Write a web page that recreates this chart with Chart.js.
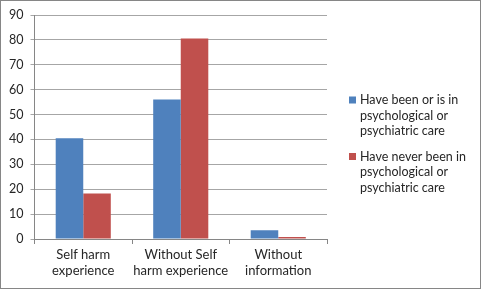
<!DOCTYPE html>
<html>
<head>
<meta charset="utf-8">
<script src="https://cdn.jsdelivr.net/npm/chart.js@4/dist/chart.umd.min.js"></script>
<style>
  html, body { margin: 0; padding: 0; background: #fff; }
  #wrap { width: 481px; height: 289px; position: relative; }
</style>
</head>
<body>
<div id="wrap"><canvas id="chart" width="481" height="289"></canvas></div>
<script>
const categories = [["Self harm", "experience"], ["Without Self", "harm experience"], ["Without", "information"]];
const inCare = [40.5, 56, 3.5];
const neverInCare = [18.3, 80.6, 0.8];
const seriesNames = [
  ["Have been or is in", "psychological or", "psychiatric care"],
  ["Have never been in", "psychological or", "psychiatric care"],
];
const seriesColors = ["#4F81BD", "#C0504D"];
const yTicks = [0, 10, 20, 30, 40, 50, 60, 70, 80, 90];

const FONT = "Lato, 'Liberation Sans', sans-serif";
const TEXT = "#262626";

// Legend on the right, wrapped text like the original.
const sideLegend = {
  id: "sideLegend",
  afterDraw(chart) {
    const ctx = chart.ctx;
    ctx.save();
    ctx.font = "12.5px " + FONT;
    ctx.textBaseline = "middle";
    let y = 100;
    chart.data.datasets.forEach((ds, i) => {
      ctx.fillStyle = ds.backgroundColor;
      ctx.fillRect(349, y - 3.5, 7, 7);
      ctx.fillStyle = TEXT;
      seriesNames[i].forEach((line, j) => {
        ctx.fillText(line, 360, y + j * 15.7);
      });
      y += 56.5;
    });
    ctx.restore();
  },
};

const frame = {
  id: "frame",
  afterDraw(chart) {
    const ctx = chart.ctx;
    ctx.save();
    ctx.strokeStyle = "#868686";
    ctx.lineWidth = 1;
    ctx.strokeRect(0.5, 0.5, chart.width - 1, chart.height - 1);
    ctx.restore();
  },
};

new Chart(document.getElementById("chart"), {
  type: "bar",
  data: {
    labels: categories,
    datasets: [
      { label: seriesNames[0].join(" "), data: inCare, backgroundColor: seriesColors[0] },
      { label: seriesNames[1].join(" "), data: neverInCare, backgroundColor: seriesColors[1] },
    ],
  },
  options: {
    responsive: false,
    animation: false,
    devicePixelRatio: 1,
    layout: { padding: { left: 0, right: 154, top: 15, bottom: 0 } },
    datasets: { bar: { categoryPercentage: 0.565, barPercentage: 1 } },
    plugins: { legend: { display: false }, tooltip: { enabled: false } },
    scales: {
      x: {
        offset: true,
        grid: { offset: true, drawOnChartArea: false, tickLength: 5, color: "#868686" },
        border: { color: "#868686" },
        ticks: {
          color: TEXT, padding: 3, maxRotation: 0, autoSkip: false,
          font: { family: FONT, size: 13, lineHeight: 1.2 },
        },
        afterFit: (s) => { s.height = 50; },
      },
      y: {
        min: 0,
        max: 90,
        afterBuildTicks: (s) => { s.ticks = yTicks.map((v) => ({ value: v })); },
        grid: { color: "#a6a6a6", tickLength: 4 },
        border: { color: "#868686" },
        ticks: { color: TEXT, padding: 7, font: { family: FONT, size: 12.5 } },
        afterFit: (s) => { s.width = 34.5; },
      },
    },
  },
  plugins: [sideLegend, frame],
});
</script>
</body>
</html>
